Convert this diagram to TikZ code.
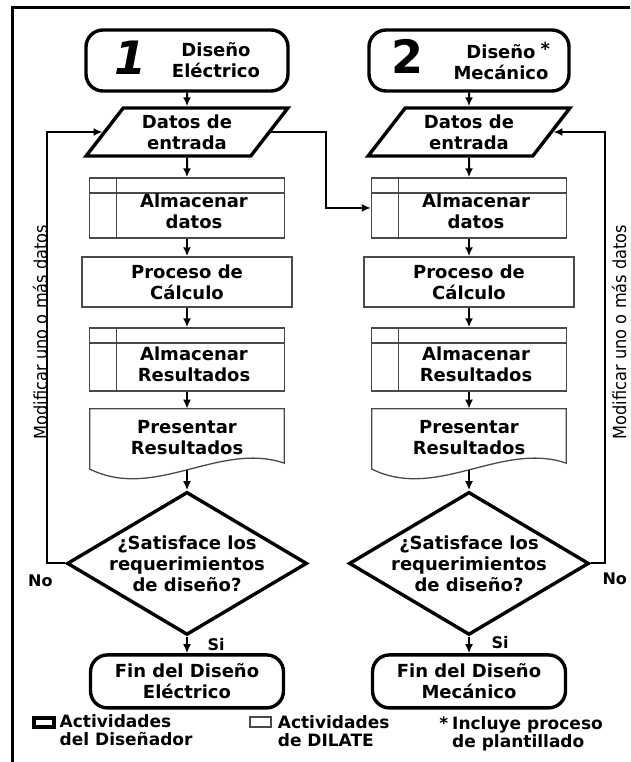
\documentclass[tikz,border=0pt]{standalone}
\usepackage{fontspec}
\setmainfont{DejaVu Sans}
\usetikzlibrary{positioning, arrows.meta, shapes.geometric}
\definecolor{colThin}{HTML}{4A4A4A}

\begin{document}
\begin{tikzpicture}[
    x=1pt, y=1pt,
    font=\bfseries\fontsize{18}{21}\selectfont,
    >={Latex[length=9pt, width=8pt]},
    designer/.style={draw, line width=3.4pt, rounded corners=17pt, align=center, inner sep=0pt},
    inputbox/.style={trapezium, trapezium left angle=54, trapezium right angle=126,
                     trapezium stretches=true, draw, line width=3.4pt, align=center,
                     inner sep=1pt, minimum width=202pt, minimum height=48pt},
    process/.style={draw=colThin, line width=1.3pt, align=center, inner sep=0pt},
    storebox/.style={process, path picture={
        \draw[colThin, line width=1.3pt]
            ([xshift=27pt]path picture bounding box.north west) --
            ([xshift=27pt]path picture bounding box.south west);
        \draw[colThin, line width=1.3pt]
            ([yshift=-15pt]path picture bounding box.north west) --
            ([yshift=-15pt]path picture bounding box.north east);}},
    docbox/.style={align=center, inner sep=0pt},
    doc/.style={draw=colThin, line width=1.3pt},
    decision/.style={diamond, draw, line width=3.4pt, inner sep=0pt,
                     minimum width=240pt, minimum height=143pt},
    arr/.style={->, line width=2pt},
    bignum/.style={font=\bfseries\fontsize{46}{46}\selectfont, inner sep=0pt},
    lbl/.style={font=\bfseries\fontsize{16}{18}\selectfont, inner sep=0pt},
    side/.style={font=\fontsize{18}{20}\selectfont, inner sep=0pt, rotate=90},
    legtext/.style={font=\bfseries\fontsize{17}{18}\selectfont, align=left, inner sep=0pt},
]
\useasboundingbox (0,0) rectangle (630,-762);

% ---- Frame ----------------------------------------------------------------
\draw[line width=3pt] (12,-762) -- (12,-8) -- (630,-8);

% ---- Column 1: electrical design -----------------------------------------
\node[designer, minimum width=202pt, minimum height=61pt,
      label={[bignum, xshift=-56pt, yshift=3pt]center:\itshape 1},
      label={[align=center, xshift=29pt]center:Diseño\\Eléctrico}] (ini1) at (187,-60.5) {};
\node[inputbox, below=13.6pt of ini1] (dat1) {Datos de\\entrada};
\node[storebox, minimum width=195pt, minimum height=60pt, below=19.6pt of dat1,
      label={[align=center, xshift=7pt, yshift=-3pt]center:Almacenar\\datos}] (alm1) {};
\node[process, minimum width=210pt, minimum height=50pt, below=17.7pt of alm1] (cal1) {Proceso de\\Cálculo};
\node[storebox, minimum width=195pt, minimum height=63pt, below=19.7pt of cal1,
      label={[align=center, xshift=7pt, yshift=-5pt]center:Almacenar\\Resultados}] (res1) {};
\node[docbox, minimum width=194pt, minimum height=58pt, below=17.1pt of res1] (pre1) {Presentar\\Resultados};
\node[decision, below=23.1pt of pre1,
      label={[align=center]center:¿Satisface los\\requerimientos\\de diseño?}] (sat1) {};
\node[designer, minimum width=193pt, minimum height=53pt, below=16.6pt of sat1] (fin1) {Fin del Diseño\\Eléctrico};

% ---- Column 2: mechanical design -----------------------------------------
\node[designer, minimum width=200pt, minimum height=61pt,
      label={[bignum, xshift=-62pt, yshift=4pt]center:2},
      label={[align=center, xshift=32pt]center:Diseño\rlap{\hspace{5pt}\raisebox{3pt}{*}}\\Mecánico}] (ini2) at (469,-60.5) {};
\node[inputbox, below=13.6pt of ini2] (dat2) {Datos de\\entrada};
\node[storebox, minimum width=195pt, minimum height=60pt, below=19.6pt of dat2,
      label={[align=center, xshift=7pt, yshift=-3pt]center:Almacenar\\datos}] (alm2) {};
\node[process, minimum width=210pt, minimum height=50pt, below=17.7pt of alm2] (cal2) {Proceso de\\Cálculo};
\node[storebox, minimum width=195pt, minimum height=63pt, below=19.7pt of cal2,
      label={[align=center, xshift=7pt, yshift=-5pt]center:Almacenar\\Resultados}] (res2) {};
\node[docbox, minimum width=194pt, minimum height=58pt, below=17.1pt of res2] (pre2) {Presentar\\Resultados};
\node[decision, below=23.1pt of pre2,
      label={[align=center]center:¿Satisface los\\requerimientos\\de diseño?}] (sat2) {};
\node[designer, minimum width=193pt, minimum height=53pt, below=16.6pt of sat2] (fin2) {Fin del Diseño\\Mecánico};

% document outlines with wavy bottom
\draw[doc] ([yshift=-2pt]pre1.south west) -- (pre1.north west) -- (pre1.north east)
    -- ([yshift=4pt]pre1.south east) .. controls +(-65pt,22pt) and +(65pt,-32pt) .. ([yshift=-2pt]pre1.south west) -- cycle;
\draw[doc] ([yshift=-2pt]pre2.south west) -- (pre2.north west) -- (pre2.north east)
    -- ([yshift=4pt]pre2.south east) .. controls +(-65pt,22pt) and +(65pt,-32pt) .. ([yshift=-2pt]pre2.south west) -- cycle;

% ---- Arrows ----------------------------------------------------------------
\draw[arr] (ini1) -- (dat1);
\draw[arr] (dat1) -- (alm1);
\draw[arr] (alm1) -- (cal1);
\draw[arr] (cal1) -- (res1);
\draw[arr] (res1) -- (pre1);
\draw[arr] ([yshift=-3pt]pre1.south) -- (sat1);
\draw[arr] (sat1) -- (fin1);

\draw[arr] (ini2) -- (dat2);
\draw[arr] (dat2) -- (alm2);
\draw[arr] (alm2) -- (cal2);
\draw[arr] (cal2) -- (res2);
\draw[arr] (res2) -- (pre2);
\draw[arr] ([yshift=-3pt]pre2.south) -- (sat2);
\draw[arr] (sat2) -- (fin2);

\draw[arr] (dat1.east) -- ++(55pt,0) |- (alm2.west);
\draw[arr] (sat1.west) -- ++(-18pt,0) |- (dat1.west);
\draw[arr] (sat2.east) -- ++(14pt,0) |- (dat2.east);

% ---- Branch labels ---------------------------------------------------------
\node[lbl] (no1) at ([xshift=-25pt, yshift=-17pt]sat1.west) {No};
\node[lbl] (no2) at ([xshift=24pt, yshift=-15pt]sat2.east) {No};
\node[lbl] (si1) at ([xshift=29pt, yshift=-8pt]sat1.south) {Si};
\node[lbl] (si2) at ([xshift=31pt, yshift=-6pt]sat2.south) {Si};

\node[side] (mod1) at (40,-332) {\scalebox{0.9}[1]{Modificar uno o más datos}};
\node[side] (mod2) at (619,-332) {\scalebox{0.9}[1]{Modificar uno o más datos}};

% ---- Legend ----------------------------------------------------------------
\node[draw, line width=4pt, minimum width=20pt, minimum height=9pt, inner sep=0pt] (legdis) at (43.5,-722) {};
\node[legtext, anchor=north west] (legdistxt) at ([xshift=4pt, yshift=1pt]legdis.north east) {Actividades\\del Diseñador};
\node[draw=colThin, line width=1.3pt, minimum width=21pt, minimum height=10pt, inner sep=0pt] (legdil) at (260.5,-722) {};
\node[legtext, anchor=north west] (legdiltxt) at ([xshift=6pt, yshift=1pt]legdil.north east) {Actividades\\de DILATE};
\node[legtext, anchor=north west] (legast) at (452,-716) {\llap{*\hspace{4pt}}Incluye proceso\\de plantillado};

\end{tikzpicture}
\end{document}
